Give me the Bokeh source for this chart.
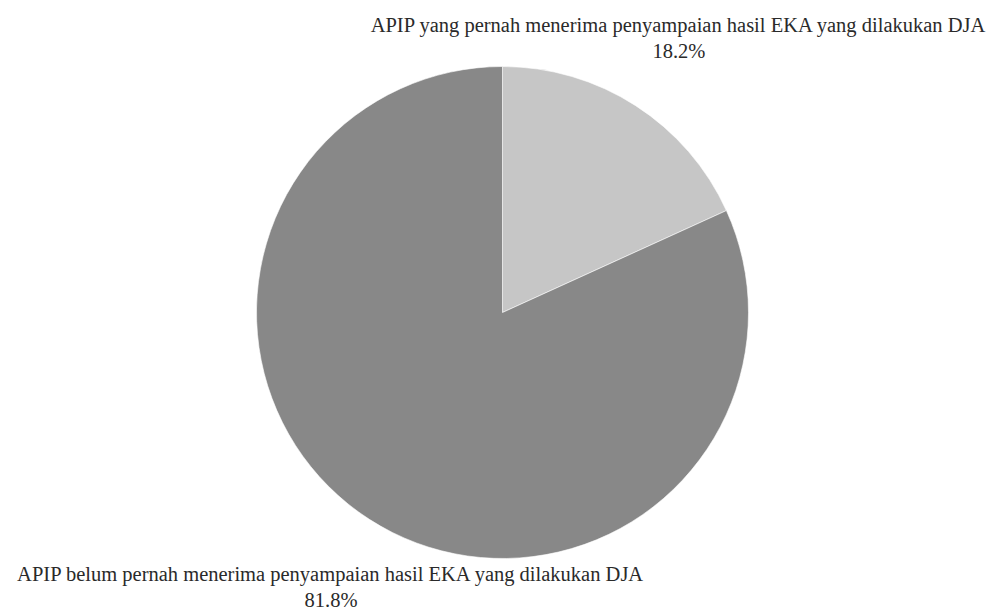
import numpy as np
from bokeh.plotting import figure
from bokeh.models import Range1d, ColumnDataSource
from bokeh.core.properties import value
from bokeh.embed import file_html
from bokeh.resources import INLINE

labels = ["APIP yang pernah menerima penyampaian hasil EKA yang dilakukan DJA",
          "APIP belum pernah menerima penyampaian hasil EKA yang dilakukan DJA"]
values = [18.2, 81.8]
colors = ["#c6c6c6", "#888888"]

W, H = 989, 613
cx, cy, r = 502, H - 312, 246
label_r = 326

fracs = np.array(values) / sum(values)
ends = np.cumsum(fracs)
starts = ends - fracs
start_ang = np.pi / 2 - 2 * np.pi * starts
end_ang = np.pi / 2 - 2 * np.pi * ends
mid_ang = (start_ang + end_ang) / 2

p = figure(width=W, height=H, output_backend="svg", toolbar_location=None,
           x_range=Range1d(0, W), y_range=Range1d(0, H), min_border=0)
p.axis.visible = False
p.grid.visible = False
p.outline_line_color = None
p.background_fill_color = "white"
p.border_fill_color = "white"

src = ColumnDataSource(dict(start=start_ang, end=end_ang, color=colors))
p.wedge(x=cx, y=cy, radius=r, start_angle="start", end_angle="end",
        direction="clock", fill_color="color", line_color="white", line_width=0.6, source=src)

lx = cx + label_r * np.cos(mid_ang) + np.array([0, 5])
ly = cy + label_r * np.sin(mid_ang)
pct = [f"{v:.1f}%" for v in values]
p.text(x=lx, y=ly + 13, text=labels, text_align="center", text_baseline="middle",
       text_font=value("Liberation Serif"), text_font_size="20.5px", text_color="#2a2a2a")
p.text(x=lx, y=ly - 13, text=pct, text_align="center", text_baseline="middle",
       text_font=value("Liberation Serif"), text_font_size="20.5px", text_color="#2a2a2a")

open("out.html", "w").write(file_html(p, INLINE))
